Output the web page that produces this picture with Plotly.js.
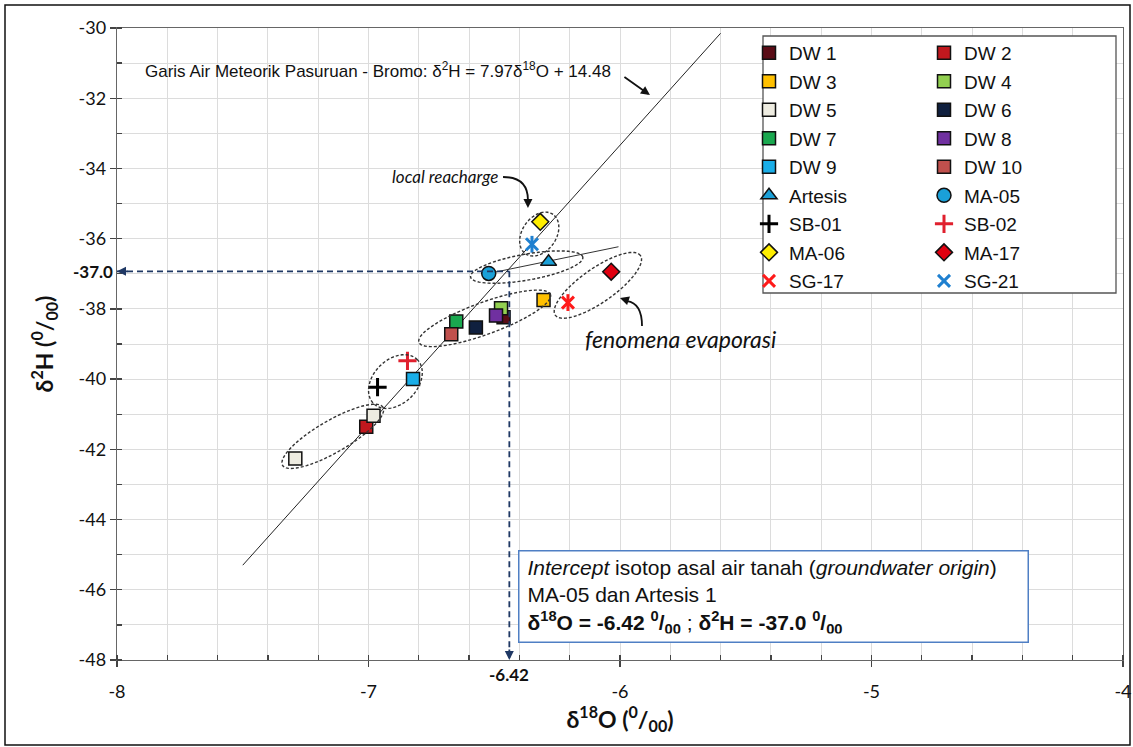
<!DOCTYPE html>
<html>
<head>
<meta charset="utf-8">
<script src="https://cdn.plot.ly/plotly-3.0.1.min.js"></script>
<style>html,body{margin:0;padding:0;background:#fff;}#chart{width:1133px;height:747px;}</style>
</head>
<body>
<div id="chart"></div>
<script>
// ---------- DATA ----------
const seriesNames = ['DW 1','DW 2','DW 3','DW 4','DW 5','DW 6','DW 7','DW 8','DW 9','DW 10',
                     'Artesis','MA-05','SB-01','SB-02','MA-06','MA-17','SG-17','SG-21'];
const d18O = [[-6.463],[-7.009],[-6.304],[-6.473],[-6.980,-7.291],[-6.573],[-6.651],[-6.493],[-6.823],[-6.671],
              [-6.284],[-6.522],[-6.964],[-6.845],[-6.317],[-6.035],[-6.207],[-6.350]];
const d2H  = [[-38.24],[-41.36],[-37.75],[-37.98],[-41.04,-42.26],[-38.53],[-38.36],[-38.19],[-40.00],[-38.72],
              [-36.66],[-36.99],[-40.23],[-39.48],[-35.52],[-36.94],[-37.82],[-36.16]];
// column of legend each series belongs to (1 = left, 2 = right)
const legendColumn = [1,2,1,2,1,2,1,2,1,2,1,2,1,2,1,2,1,2];

// tick values / labels (hyphen minus as in the original)
const xTickVals = [-8, -7, -6, -5, -4];
const xTickText = ['-8', '-7', '-6', '-5', '-4'];
const yTickVals = [-48, -46, -44, -42, -40, -38, -36, -34, -32, -30];
const yTickText = ['-48', '-46', '-44', '-42', '-40', '-38', '-36', '-34', '-32', '-30'];

// Local meteoric water line  d2H = 7.97 d18O + 14.48
const lmwlX = [-7.5, -5.6];
const lmwlY = [-45.30, -30.15];
// Evaporation line
const evapX = [-6.522, -6.006];
const evapY = [-36.99, -36.23];
// Intercept (groundwater origin) guide
const interceptX = -6.44;
const interceptY = -36.93;
const interceptLabelX = '-6.42';
const interceptLabelY = '-37.0';

// ---------- STYLES ----------
const styles = {
  'DW 1':   {symbol:'square', color:'#5a0c16', size:13},
  'DW 2':   {symbol:'square', color:'#c0181e', size:13},
  'DW 3':   {symbol:'square', color:'#ffc000', size:13},
  'DW 4':   {symbol:'square', color:'#92d050', size:13},
  'DW 5':   {symbol:'square', color:'#eeece1', size:13},
  'DW 6':   {symbol:'square', color:'#10203f', size:13},
  'DW 7':   {symbol:'square', color:'#1aa84f', size:13},
  'DW 8':   {symbol:'square', color:'#7030a0', size:13},
  'DW 9':   {symbol:'square', color:'#1aaee8', size:13},
  'DW 10':  {symbol:'square', color:'#c0504d', size:13},
  'Artesis':{symbol:'triangle-up', color:'#1aa0d8', size:14},
  'MA-05':  {symbol:'circle', color:'#1aa0d8', size:14},
  'SB-01':  {symbol:'cross-thin-open', color:'#000000', size:13, open:true},
  'SB-02':  {symbol:'cross-thin-open', color:'#e0202e', size:13, open:true},
  'MA-06':  {symbol:'diamond', color:'#ffee00', size:13},
  'MA-17':  {symbol:'diamond', color:'#e00010', size:13},
  'SG-17':  {symbol:'x-thin-open', color:'#ff1a1a', size:12, open:true, star:true},
  'SG-21':  {symbol:'x-thin-open', color:'#1f80d0', size:12, open:true, star:true}
};

// ---------- LAYOUT GEOMETRY ----------
const W = 1133, H = 747;
const M = {l:117, r:10, t:28, b:87};
const xR = [-8, -4], yR = [-48, -30];
const kx = (W - M.l - M.r) / (xR[1] - xR[0]);
const ky = (H - M.t - M.b) / (yR[1] - yR[0]);

function ellipsePath(cx, cy, a, b, deg) {
  const th = deg * Math.PI / 180;
  let p = '';
  for (let i = 0; i <= 72; i++) {
    const t = i / 72 * 2 * Math.PI;
    const dx = a * Math.cos(t) * Math.cos(th) - b * Math.sin(t) * Math.sin(th);
    const dy = a * Math.cos(t) * Math.sin(th) + b * Math.sin(t) * Math.cos(th);
    p += (i ? ' L ' : 'M ') + (cx + dx / kx).toFixed(4) + ',' + (cy + dy / ky).toFixed(4);
  }
  return p + ' Z';
}

// ---------- TRACES ----------
const traces = [];
traces.push({x: lmwlX, y: lmwlY, mode:'lines', line:{color:'#222', width:1}, showlegend:false, hoverinfo:'skip'});
traces.push({x: evapX, y: evapY, mode:'lines', line:{color:'#333', width:1}, showlegend:false, hoverinfo:'skip'});

seriesNames.forEach((n, i) => {
  const s = styles[n];
  const leg = legendColumn[i] === 1 ? 'legend' : 'legend2';
  traces.push({
    x: d18O[i], y: d2H[i], name: n, mode:'markers', type:'scatter',
    legend: leg, legendgroup: n,
    marker: s.open
      ? {symbol:s.symbol, size:s.size, color:s.color, line:{color:s.color, width:3}}
      : {symbol:s.symbol, size:s.size, color:s.color, line:{color:'#111', width:1.5}}
  });
  if (s.star) {
    traces.push({
      x: d18O[i], y: d2H[i], name: n, mode:'markers', type:'scatter',
      legend: leg, legendgroup: n, showlegend:false,
      marker:{symbol:'line-ns-open', size:s.size, color:s.color, line:{color:s.color, width:3}}
    });
  }
});

// ---------- SHAPES ----------
const dashC = '#1f3864';
const ellC = '#333333';
const ellipses = [
  [-6.321, -35.87, 24, 17, 55],
  [-6.371, -36.81, 57, 13, 10],
  [-6.088, -37.33, 52, 17, 35],
  [-6.538, -38.27, 70, 16, 20],
  [-6.893, -40.07, 31, 22, 45],
  [-7.142, -41.63, 58, 16, 30]
];
const shapes = [];
ellipses.forEach(e => shapes.push({type:'path', xref:'x', yref:'y', path: ellipsePath(...e),
  line:{color:ellC, width:1.4, dash:'3px,2px'}, layer:'above'}));

// guide dashed lines
shapes.push({type:'line', xref:'x', yref:'y', x0:-8, x1:interceptX, y0:interceptY, y1:interceptY,
  line:{color:dashC, width:1.8, dash:'6px,4px'}, layer:'above'});
shapes.push({type:'line', xref:'x', yref:'y', x0:interceptX, x1:interceptX, y0:interceptY, y1:-48,
  line:{color:dashC, width:1.8, dash:'6px,4px'}, layer:'above'});

// curved arrow bodies
shapes.push({type:'path', xref:'x', yref:'y', path:'M -6.465,-34.244 Q -6.366,-34.244 -6.366,-34.90',
  line:{color:'#111', width:1.8}, layer:'above'});
shapes.push({type:'path', xref:'x', yref:'y', path:'M -5.9125,-38.487 Q -5.9125,-37.833 -5.972,-37.776',
  line:{color:'#111', width:1.8}, layer:'above'});

// legend box
shapes.push({type:'rect', xref:'paper', yref:'paper',
  x0:(763 - M.l)/(W - M.l - M.r), x1:(1116 - M.l)/(W - M.l - M.r),
  y0:(H - M.b - 293)/(H - M.t - M.b), y1:(H - M.b - 36)/(H - M.t - M.b),
  fillcolor:'#ffffff', line:{color:'#555', width:1.3}, layer:'above'});

// outer frame
shapes.push({type:'rect', xref:'paper', yref:'paper',
  x0:(5 - M.l)/(W - M.l - M.r), x1:(1130 - M.l)/(W - M.l - M.r),
  y0:(H - M.b - 745)/(H - M.t - M.b), y1:(H - M.b - 5)/(H - M.t - M.b),
  fillcolor:'rgba(0,0,0,0)', line:{color:'#111', width:1.5}, layer:'above'});

// ---------- ANNOTATIONS ----------
const annotations = [
  {x:-7.897, y:-31.20, xref:'x', yref:'y', xanchor:'left', yanchor:'middle', showarrow:false,
   text:'Garis Air Meteorik Pasuruan - Bromo: δ<sup>2</sup>H = 7.97δ<sup>18</sup>O + 14.48',
   font:{family:'Liberation Sans, Arial', size:17, color:'#111'}},
  {x:-5.881, y:-31.908, xref:'x', yref:'y', ax:-27, ay:-19, showarrow:true, text:'',
   arrowhead:2, arrowsize:1, arrowwidth:1.8, arrowcolor:'#111'},
  {x:-6.915, y:-34.24, xref:'x', yref:'y', xanchor:'left', yanchor:'middle', showarrow:false,
   text:'<i>local reacharge</i>', font:{family:'Lato, Open Sans', size:17, color:'#111'}},
  {x:-6.366, y:-35.13, xref:'x', yref:'y', ax:0, ay:-10, showarrow:true, text:'',
   arrowhead:2, arrowsize:1, arrowwidth:1.8, arrowcolor:'#111'},
  {x:-6.148, y:-38.86, xref:'x', yref:'y', xanchor:'left', yanchor:'middle', showarrow:false,
   text:'<i>fenomena evaporasi</i>', font:{family:'Lato, Open Sans', size:23, color:'#111'}},
  {x:-6.000, y:-37.690, xref:'x', yref:'y', ax:9, ay:3, showarrow:true, text:'',
   arrowhead:2, arrowsize:1, arrowwidth:1.8, arrowcolor:'#111'},
  // guide arrowheads
  {x:-8, y:interceptY, xref:'x', yref:'y', ax:12, ay:0, showarrow:true, text:'',
   arrowhead:2, arrowsize:1, arrowwidth:1.8, arrowcolor:dashC},
  {x:interceptX, y:-48, xref:'x', yref:'y', ax:0, ay:-12, showarrow:true, text:'',
   arrowhead:2, arrowsize:1, arrowwidth:1.8, arrowcolor:dashC},
  // guide labels
  {x:0, xref:'paper', y:interceptY, yref:'y', xanchor:'right', yanchor:'middle', xshift:-2, showarrow:false,
   text:'<b>' + interceptLabelY + '</b>', font:{family:'Lato, Open Sans', size:17, color:'#111'}},
  {x:interceptX, xref:'x', y:0, yref:'paper', xanchor:'center', yanchor:'top', yshift:-2, showarrow:false,
   text:'<b>' + interceptLabelX + '</b>', font:{family:'Lato, Open Sans', size:17, color:'#111'}},
  // info box
  {x:-6.404, y:-44.87, xref:'x', yref:'y', xanchor:'left', yanchor:'top', showarrow:false,
   align:'left', valign:'middle', width:492, height:74, borderpad:8, borderwidth:1.5,
   bordercolor:'#4f7fc4', bgcolor:'#ffffff',
   text:'<i>Intercept</i> isotop asal air tanah (<i>groundwater origin</i>)<br>MA-05 dan Artesis 1<br>' +
        '<b>δ<sup>18</sup>O = -6.42 <sup>0</sup>/<sub>00</sub></b> ; <b>δ<sup>2</sup>H = -37.0 <sup>0</sup>/<sub>00</sub></b>',
   font:{family:'Liberation Sans, Arial', size:21, color:'#111'}}
];

const gridC = '#dcdcdc';
const axisBase = {
  showline:true, mirror:true, linecolor:'#666', linewidth:1.3,
  gridcolor:gridC, gridwidth:1, zeroline:false,
  ticks:'outside', ticklen:6, tickcolor:'#444', tickwidth:1.3,
  tickfont:{family:'Lato, Open Sans', size:18, color:'#111'}
};

const layout = {
  width:W, height:H, margin:M,
  paper_bgcolor:'#ffffff', plot_bgcolor:'#ffffff',
  showlegend:true,
  xaxis: Object.assign({}, axisBase, {
    range:xR, tickmode:'array', tickvals:xTickVals, ticktext:xTickText, ticklabelstandoff:9,
    minor:{dtick:0.2, tick0:-8, ticks:'inside', ticklen:5, tickcolor:'#444', showgrid:true, gridcolor:gridC, gridwidth:1},
    title:{text:'<b>δ<sup>18</sup>O (<sup>0</sup>/<sub>00</sub>)</b>', standoff:10,
           font:{family:'Lato, Open Sans', size:23, color:'#111'}}
  }),
  yaxis: Object.assign({}, axisBase, {
    range:yR, tickmode:'array', tickvals:yTickVals, ticktext:yTickText,
    minor:{dtick:1, tick0:-48, ticks:'inside', ticklen:5, tickcolor:'#444', showgrid:true, gridcolor:gridC, gridwidth:1},
    title:{text:'<b>δ<sup>2</sup>H (<sup>0</sup>/<sub>00</sub>)</b>', standoff:18,
           font:{family:'Lato, Open Sans', size:23, color:'#111'}}
  }),
  legend:{x:(749 - M.l)/(W - M.l - M.r), y:(H - M.b - 34)/(H - M.t - M.b), xanchor:'left', yanchor:'top',
          bgcolor:'rgba(0,0,0,0)', borderwidth:0, tracegroupgap:0.8,
          font:{family:'Liberation Sans, Arial', size:19, color:'#111'}},
  legend2:{x:(924 - M.l)/(W - M.l - M.r), y:(H - M.b - 34)/(H - M.t - M.b), xanchor:'left', yanchor:'top',
          bgcolor:'rgba(0,0,0,0)', borderwidth:0, tracegroupgap:0.8,
          font:{family:'Liberation Sans, Arial', size:19, color:'#111'}},
  shapes: shapes,
  annotations: annotations
};

Plotly.newPlot('chart', traces, layout, {displayModeBar:false, staticPlot:true});
</script>
</body>
</html>
